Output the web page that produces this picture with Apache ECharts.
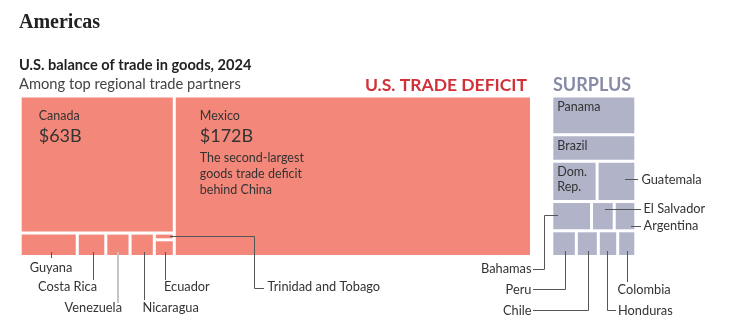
<!DOCTYPE html>
<html>
<head>
<meta charset="utf-8">
<script src="https://cdn.jsdelivr.net/npm/echarts@6/dist/echarts.min.js"></script>
<style>
html,body{margin:0;padding:0;background:#fff;}
#chart{width:729px;height:333px;}
</style>
</head>
<body>
<div id="chart"></div>
<script>
// ---------- DATA (US goods trade balance 2024, $ billions) ----------
const deficitCountries = ['Mexico', 'Canada', 'Guyana', 'Costa Rica', 'Venezuela', 'Nicaragua', 'Ecuador', 'Trinidad and Tobago'];
const deficitValues    = [171.8, 63.3, 4.0, 2.0, 1.7, 1.7, 1.0, 0.4];

const surplusCountries = ['Panama', 'Brazil', 'Dom. Rep.', 'Guatemala', 'Bahamas', 'El Salvador', 'Argentina', 'Peru', 'Chile', 'Honduras', 'Colombia'];
const surplusValues    = [9.8, 6.7, 5.5, 4.7, 3.5, 2.0, 1.9, 1.9, 1.7, 1.5, 1.4];

const mexicoNote = ['The second-largest', 'goods trade deficit', 'behind China'];

const titleText    = 'Americas';
const subtitleText = 'U.S. balance of trade in goods, 2024';
const noteText     = 'Among top regional trade partners';
const deficitTitle = 'U.S. TRADE DEFICIT';
const surplusTitle = 'SURPLUS';

// ---------- STYLE ----------
const FONT = 'Lato, "Noto Sans", sans-serif';
const DEF_COLOR = '#F3887A';
const SUR_COLOR = '#B1B3C9';
const TXT = '#333';

function fmtB(v) { return '$' + Math.round(v) + 'B'; }

function dLeaf(name, label) {
  const i = deficitCountries.indexOf(name);
  return { name: name, value: deficitValues[i], itemStyle: { color: DEF_COLOR }, label: label || { show: false } };
}
function sLeaf(name, label) {
  const i = surplusCountries.indexOf(name);
  return { name: name, value: surplusValues[i], itemStyle: { color: SUR_COLOR }, label: label || { show: false } };
}
function group(children) { return { name: '', children: children, label: { show: false } }; }

const bigRich = {
  n: { fontFamily: FONT, fontSize: 12.5, color: TXT, lineHeight: 16 },
  v: { fontFamily: FONT, fontSize: 18, color: TXT, lineHeight: 26 },
  d: { fontFamily: FONT, fontSize: 12.5, color: TXT, lineHeight: 16 }
};

const canadaLabel = {
  show: true, position: [17, 10], align: 'left', verticalAlign: 'top', padding: 0,
  formatter: function (p) { return '{n|' + p.name + '}\n{v|' + fmtB(p.value) + '}'; },
  rich: bigRich
};
const mexicoLabel = {
  show: true, position: [24, 10], align: 'left', verticalAlign: 'top', padding: 0,
  formatter: function (p) {
    return '{n|' + p.name + '}\n{v|' + fmtB(p.value) + '}\n' + mexicoNote.map(function (s) { return '{d|' + s + '}'; }).join('\n');
  },
  rich: bigRich
};
function smallLabel(text) {
  return {
    show: true, position: [4, 2], align: 'left', verticalAlign: 'top', padding: 0,
    formatter: text, fontFamily: FONT, fontSize: 12.5, color: TXT, lineHeight: 15
  };
}

// deficit hierarchy (data order kept; squarify decides the geometry)
const deficitTree = [
  group([
    dLeaf('Canada', canadaLabel),
    group([
      dLeaf('Guyana'), dLeaf('Costa Rica'), dLeaf('Venezuela'), dLeaf('Nicaragua'),
      group([dLeaf('Trinidad and Tobago'), dLeaf('Ecuador')])
    ])
  ]),
  dLeaf('Mexico', mexicoLabel)
];

const surplusTree = [
  sLeaf('Panama', smallLabel('Panama')),
  group([
    sLeaf('Brazil', smallLabel('Brazil')),
    group([
      group([
        group([sLeaf('Dom. Rep.', smallLabel('Dom.\nRep.')), sLeaf('Guatemala')]),
        group([sLeaf('Bahamas'), sLeaf('El Salvador'), sLeaf('Argentina')])
      ]),
      group([sLeaf('Peru'), sLeaf('Chile'), sLeaf('Honduras'), sLeaf('Colombia')])
    ])
  ])
];

function treemapSeries(data, color, box, ratio) {
  return {
    type: 'treemap',
    left: box[0], top: box[1], width: box[2], height: box[3],
    roam: false, nodeClick: false, silent: true,
    sort: false, squareRatio: ratio,
    visibleMin: 0,
    breadcrumb: { show: false },
    color: [color],
    levels: [{ color: [color], itemStyle: { borderWidth: 0, gapWidth: 3, borderColor: '#fff' } }],
    itemStyle: { color: color, borderWidth: 0, gapWidth: 3, borderColor: '#fff' },
    label: { show: false },
    upperLabel: { show: false },
    animation: false,
    data: data
  };
}

// ---------- ANNOTATIONS (callout labels & leader lines) ----------
const calloutFont = { fontFamily: FONT, fontSize: 12.8, fill: TXT };
const callouts = [
  { t: 'Guyana', x: 51, y: 268, a: 'center', line: [[51.5, 252], [51.5, 258]] },
  { t: 'Costa Rica', x: 97, y: 287, a: 'right', line: [[93.5, 252], [93.5, 280]] },
  { t: 'Venezuela', x: 122, y: 308, a: 'right', line: [[118, 252], [118, 303]], lc: '#c4c4c4', lw: 2 },
  { t: 'Nicaragua', x: 142.5, y: 308, a: 'left', line: [[144.5, 252], [144.5, 300]] },
  { t: 'Ecuador', x: 164, y: 287, a: 'left', line: [[165.5, 252], [165.5, 280]] },
  { t: 'Trinidad and Tobago', x: 267.5, y: 287, a: 'left', line: [[170, 236.5], [254.5, 236.5], [254.5, 288.5], [264, 288.5]] },
  { t: 'Guatemala', x: 641.5, y: 180, a: 'left', line: [[625, 179.5], [638, 179.5]] },
  { t: 'El Salvador', x: 643.5, y: 209, a: 'left', line: [[605, 209.5], [641, 209.5]] },
  { t: 'Argentina', x: 643.5, y: 226, a: 'left', line: [[631, 226.5], [641, 226.5]] },
  { t: 'Bahamas', x: 531.5, y: 269, a: 'right', line: [[533, 269.5], [544.5, 269.5], [544.5, 215.5], [558, 215.5]] },
  { t: 'Peru', x: 531.5, y: 289.5, a: 'right', line: [[533, 289.5], [565.5, 289.5], [565.5, 251]] },
  { t: 'Chile', x: 531.5, y: 310.5, a: 'right', line: [[533, 310.5], [588.5, 310.5], [588.5, 251]] },
  { t: 'Honduras', x: 618, y: 310.5, a: 'left', line: [[607.5, 251], [607.5, 310.5], [616, 310.5]] },
  { t: 'Colombia', x: 617.5, y: 289.5, a: 'left', line: [[627.5, 251], [627.5, 282]] }
];

const graphics = [
  { type: 'text', left: 19, top: 13, style: { text: titleText, fontFamily: '"Liberation Serif", serif', fontWeight: 'bold', fontSize: 20, fill: '#222' } },
  { type: 'text', left: 19, top: 58, style: { text: subtitleText, fontFamily: FONT, fontWeight: 'bold', fontSize: 14.6, fill: '#222' } },
  { type: 'text', left: 19, top: 77, style: { text: noteText, fontFamily: FONT, fontSize: 14.7, fill: '#444' } },
  { type: 'text', x: 527, y: 85, style: { text: deficitTitle, fontFamily: FONT, fontWeight: 'bold', fontSize: 17.5, fill: '#D13239', align: 'right', verticalAlign: 'middle' } },
  { type: 'text', x: 553, y: 85, style: { text: surplusTitle, fontFamily: FONT, fontWeight: 'bold', fontSize: 18, fill: '#878BA6', align: 'left', verticalAlign: 'middle' } }
];
callouts.forEach(function (c) {
  graphics.push({ type: 'polyline', z: 100, shape: { points: c.line }, style: { stroke: c.lc || '#555', lineWidth: c.lw || 1, fill: null } });
  graphics.push({ type: 'text', z: 100, x: c.x, y: c.y, style: Object.assign({ text: c.t, align: c.a, verticalAlign: 'middle' }, calloutFont) });
});

const chart = echarts.init(document.getElementById('chart'), null, { renderer: 'canvas' });
chart.setOption({
  animation: false,
  series: [
    treemapSeries(deficitTree, DEF_COLOR, [21.7, 97.5, 508.3, 157.5], 1),
    treemapSeries(surplusTree, SUR_COLOR, [553.3, 97.5, 81, 157.5], 1.435)
  ],
  graphic: graphics
});
</script>
</body>
</html>
